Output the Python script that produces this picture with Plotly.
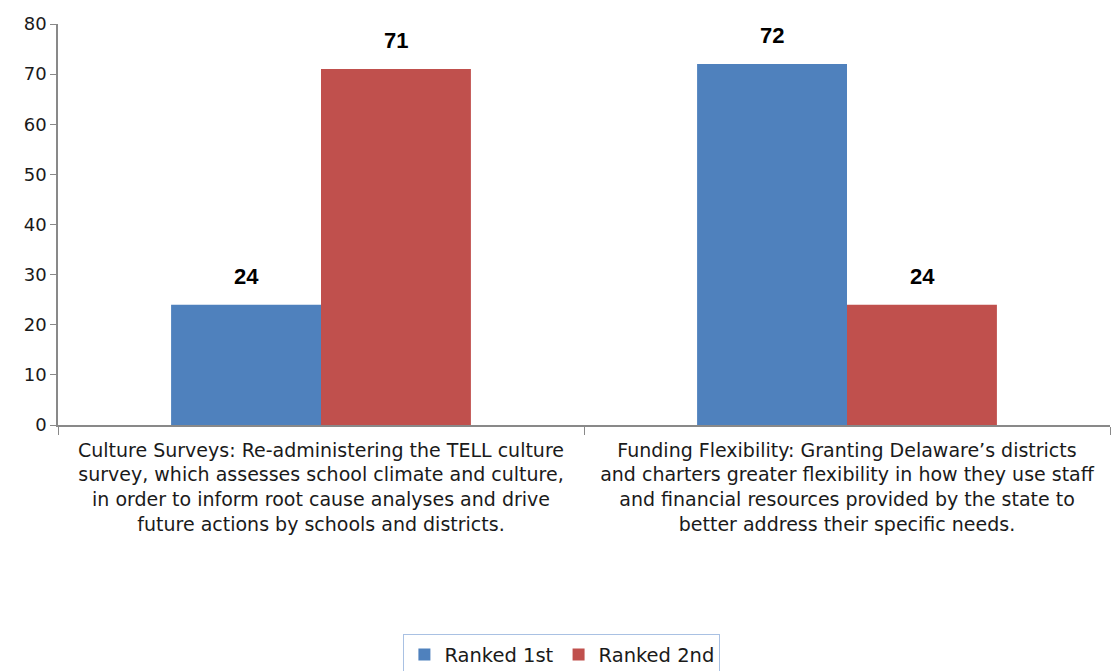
import plotly.graph_objects as go

categories = [
    "Culture Surveys: Re-administering the TELL culture<br>survey, which assesses school climate and culture,<br>in order to inform root cause analyses and drive<br>future actions by schools and districts.",
    "Funding Flexibility: Granting Delaware\u2019s districts<br>and charters greater flexibility in how they use staff<br>and financial resources provided by the state to<br>better address their specific needs.",
]
ranked_1st = [24, 72]
ranked_2nd = [71, 24]
series_names = ["Ranked 1st", "Ranked 2nd"]
colors = ["#4f81bd", "#c0504d"]
y_ticks = [0, 10, 20, 30, 40, 50, 60, 70, 80]

FONT = "DejaVu Sans, sans-serif"
LABEL_FONT = "Liberation Sans, Arial, sans-serif"

fig = go.Figure()
for name, vals, color in zip(series_names, [ranked_1st, ranked_2nd], colors):
    fig.add_trace(go.Bar(
        x=categories, y=vals, name=name,
        marker=dict(color=color, line=dict(width=0)),
    ))

# value labels above each bar, offset half a bar width left/right of the category centre
half_bar_px = 75
for offset, vals in zip([-half_bar_px, half_bar_px], [ranked_1st, ranked_2nd]):
    for cat, v in zip(categories, vals):
        fig.add_annotation(
            x=cat, y=v, xref="x", yref="y", text=f"<b>{v}</b>",
            showarrow=False, xshift=offset, yshift=14, yanchor="bottom",
            font=dict(family=LABEL_FONT, size=22, color="black"),
        )

fig.update_layout(
    width=1114, height=671,
    margin=dict(l=58, r=4, t=24, b=246, autoexpand=False),
    paper_bgcolor="white", plot_bgcolor="white",
    barmode="group", bargap=0.43, bargroupgap=0,
    font=dict(family=FONT, size=16, color="black"),
    showlegend=True,
    legend=dict(
        orientation="h", x=0.479, xanchor="center", y=-0.522, yanchor="top",
        bordercolor="#a9c1e3", borderwidth=1,
        font=dict(family=FONT, size=19.5, color="#1a1a1a"),
        itemwidth=30,
    ),
    xaxis=dict(
        showline=True, linecolor="#898989", linewidth=1.5,
        ticks="outside", tickson="boundaries", ticklen=8, tickcolor="#898989",
        tickfont=dict(family=FONT, size=19, color="#1a1a1a"), showgrid=False,
        ticklabelstandoff=7, automargin=False,
    ),
    yaxis=dict(
        range=[0, 80], tickvals=y_ticks, showline=True, linecolor="#898989",
        linewidth=1.5, ticks="outside", ticklen=6, tickcolor="#898989",
        showgrid=False, zeroline=False, automargin=False,
        tickfont=dict(family=FONT, size=18, color="#1a1a1a"),
    ),
)

fig.write_html("out.html")
